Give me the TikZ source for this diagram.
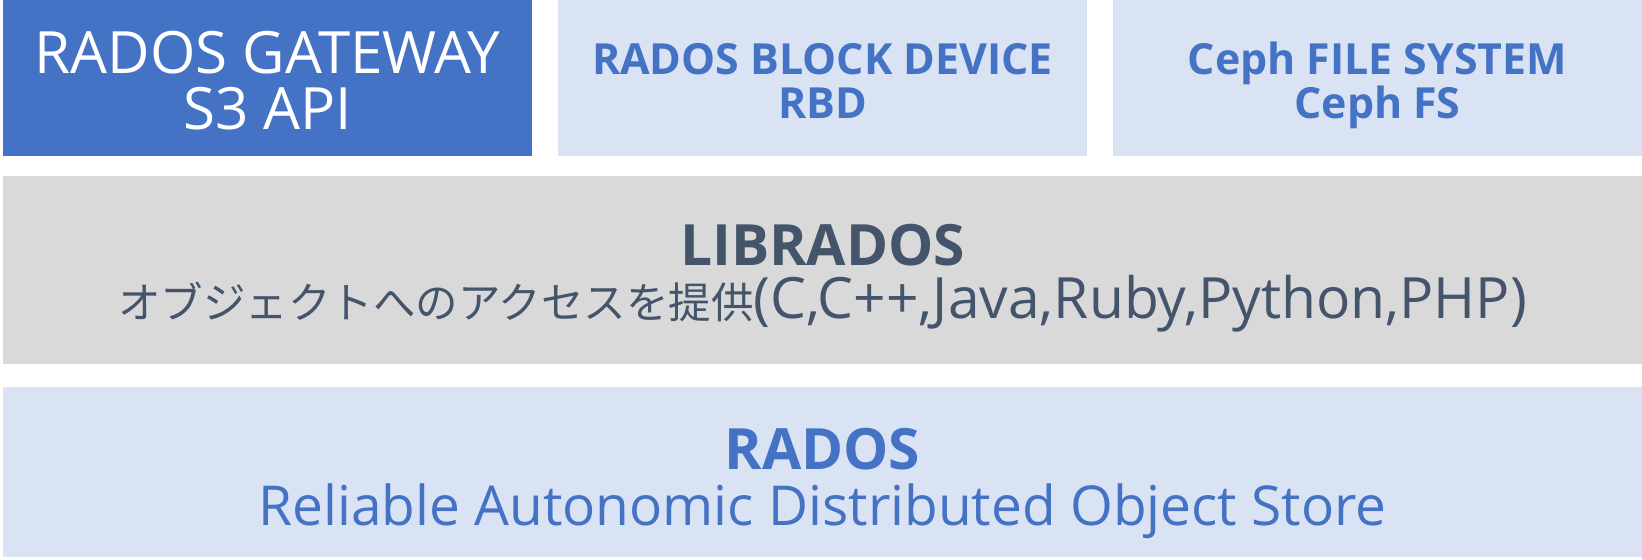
\documentclass[tikz,border=0pt]{standalone}
\usepackage{fontspec}
\setmainfont{Open Sans}
\newfontfamily\jpfont{Noto Sans CJK JP}
\usepackage{tikz}
\usetikzlibrary{positioning}

\definecolor{cephblue}{HTML}{4472C4}
\definecolor{cephlight}{HTML}{DAE3F3}
\definecolor{cephgray}{HTML}{D9D9D9}
\definecolor{cephtext}{HTML}{44546A}

\tikzset{
  box/.style={rectangle, inner sep=0pt, outer sep=0pt, minimum width=5.29cm, minimum height=1.557cm, anchor=north west},
  wide/.style={rectangle, inner sep=0pt, outer sep=0pt, minimum width=16.39cm, anchor=north west},
  label/.style={inner sep=0pt, anchor=base}
}

\begin{document}
\begin{tikzpicture}
    \useasboundingbox (0,0) rectangle (16.42,-5.59);

    % Layers
    \node[box, fill=cephblue] (rgw) at (0.03,0) {};
    \node[box, fill=cephlight, right=0.26cm of rgw] (rbd) {};
    \node[box, fill=cephlight, right=0.26cm of rbd] (cephfs) {};
    \node[wide, fill=cephgray, minimum height=1.88cm] (librados) at (0.03,-1.76) {};
    \node[wide, fill=cephlight, minimum height=1.70cm] (rados) at (0.03,-3.87) {};

    % Labels
    \node[label, text=white, font=\fontsize{16.6}{20}\selectfont] (rgwname) at ([yshift=-0.73cm]rgw.north) {RADOS GATEWAY};
    \node[label, text=white, font=\fontsize{16.6}{20}\selectfont] (rgwapi) at ([yshift=-1.29cm]rgw.north) {S3 API};
    \node[label, text=cephblue, font=\bfseries\fontsize{12.2}{15}\selectfont] (rbdname) at ([yshift=-0.74cm]rbd.north) {RADOS BLOCK DEVICE};
    \node[label, text=cephblue, font=\bfseries\fontsize{12.2}{15}\selectfont] (rbdshort) at ([yshift=-1.18cm]rbd.north) {RBD};
    \node[label, text=cephblue, font=\bfseries\fontsize{12.2}{15}\selectfont] (fsname) at ([yshift=-0.74cm]cephfs.north) {Ceph FILE SYSTEM};
    \node[label, text=cephblue, font=\bfseries\fontsize{12.2}{15}\selectfont] (fsshort) at ([yshift=-1.18cm]cephfs.north) {Ceph FS};
    \node[label, text=cephtext, font=\bfseries\fontsize{16.2}{20}\selectfont] (libname) at ([yshift=-0.89cm]librados.north) {LIBRADOS};
    \node[label, text=cephtext, font=\fontsize{16.2}{20}\selectfont] (libdesc) at ([yshift=-1.42cm]librados.north) {{\jpfont\fontsize{12.1}{20}\selectfont オブジェクトへのアクセスを提供}(C,C++,Java,Ruby,Python,PHP)};
    \node[label, text=cephblue, font=\bfseries\fontsize{16.2}{20}\selectfont] (radosname) at ([yshift=-0.82cm]rados.north) {RADOS};
    \node[label, text=cephblue, font=\fontsize{15.65}{20}\selectfont] (radosdesc) at ([yshift=-1.38cm]rados.north) {Reliable Autonomic Distributed Object Store};
\end{tikzpicture}
\end{document}
